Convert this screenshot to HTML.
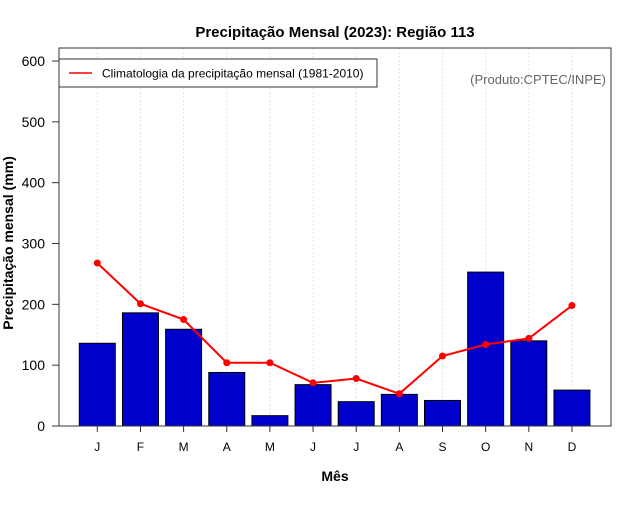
<!DOCTYPE html>
<html><head><meta charset="utf-8"><style>
body{margin:0;background:#fff}
svg text{font-family:"Liberation Sans",sans-serif}
</style></head><body>
<svg width="640" height="500" viewBox="0 0 640 500" xmlns="http://www.w3.org/2000/svg">
<text x="335" y="37" text-anchor="middle" font-size="15" font-weight="bold">Precipitação Mensal (2023): Região 113</text>
<g id="grid"></g>
<g id="bars"></g>
<g id="line"></g>
<rect x="59" y="48" width="552" height="378" fill="none" stroke="#333" stroke-width="1"/>
<g id="yaxis"></g>
<g id="xaxis"></g>
<text x="13" y="243" transform="rotate(-90 13 243)" text-anchor="middle" font-size="14" font-weight="bold">Precipitação mensal (mm)</text>
<text x="335" y="481" text-anchor="middle" font-size="14" font-weight="bold">Mês</text>
<g>
<rect x="59" y="59" width="318" height="28" fill="#fff" stroke="#333" stroke-width="1"/>
<line x1="69" y1="73" x2="92" y2="73" stroke="red" stroke-width="1.5"/>
<text x="102" y="77.5" font-size="12">Climatologia da precipitação mensal (1981-2010)</text>
</g>
<text x="606" y="84" text-anchor="end" font-size="13" fill="#666">(Produto:CPTEC/INPE)</text>
</svg>
<script>
const months = ["J","F","M","A","M","J","J","A","S","O","N","D"];
const precip2023 = [136,186,159,88,17,68,40,52,42,253,140,59];
const climatology = [268,201,175,104,104,71,78,53,115,134,144,198];
const yTicks = [0,100,200,300,400,500,600];
const NS="http://www.w3.org/2000/svg";
const x = i => 97.3 + i*43.15;
const y = v => 426 - v*(365/600);
function mk(tag, attrs, parent){const e=document.createElementNS(NS,tag);for(const k in attrs)e.setAttribute(k,attrs[k]);document.getElementById(parent).appendChild(e);return e;}
months.forEach((m,i)=>{
  const g=mk("line",{x1:x(i),x2:x(i),y1:48,y2:426,stroke:"#e4e4e4","stroke-dasharray":"2,2"},"grid");
  
  
  const b=mk("rect",{x:x(i)-18,y:y(precip2023[i]),width:36,height:426-y(precip2023[i]),fill:"#0000cc",stroke:"#000","stroke-width":1},"bars");
  
  
  const t=mk("line",{x1:x(i),x2:x(i),y1:426,y2:432,stroke:"#333"},"xaxis");
  
  
  const l=mk("text",{x:x(i),y:451,"text-anchor":"middle","font-size":12},"xaxis");
  l.textContent=m;
  
  
});
const pl=mk("polyline",{points:climatology.map((v,i)=>x(i)+","+y(v)).join(" "),fill:"none",stroke:"red","stroke-width":2},"line");


climatology.forEach((v,i)=>{
  const c=mk("circle",{cx:x(i),cy:y(v),r:3.5,fill:"red"},"line");
  
  
});
yTicks.forEach(v=>{
  const t=mk("line",{x1:52,x2:59,y1:y(v),y2:y(v),stroke:"#333"},"yaxis");
  
  
  const l=mk("text",{x:45,y:y(v)+5,"text-anchor":"end","font-size":14},"yaxis");
  l.textContent=v;
  
  
});
</script>
</body></html>
